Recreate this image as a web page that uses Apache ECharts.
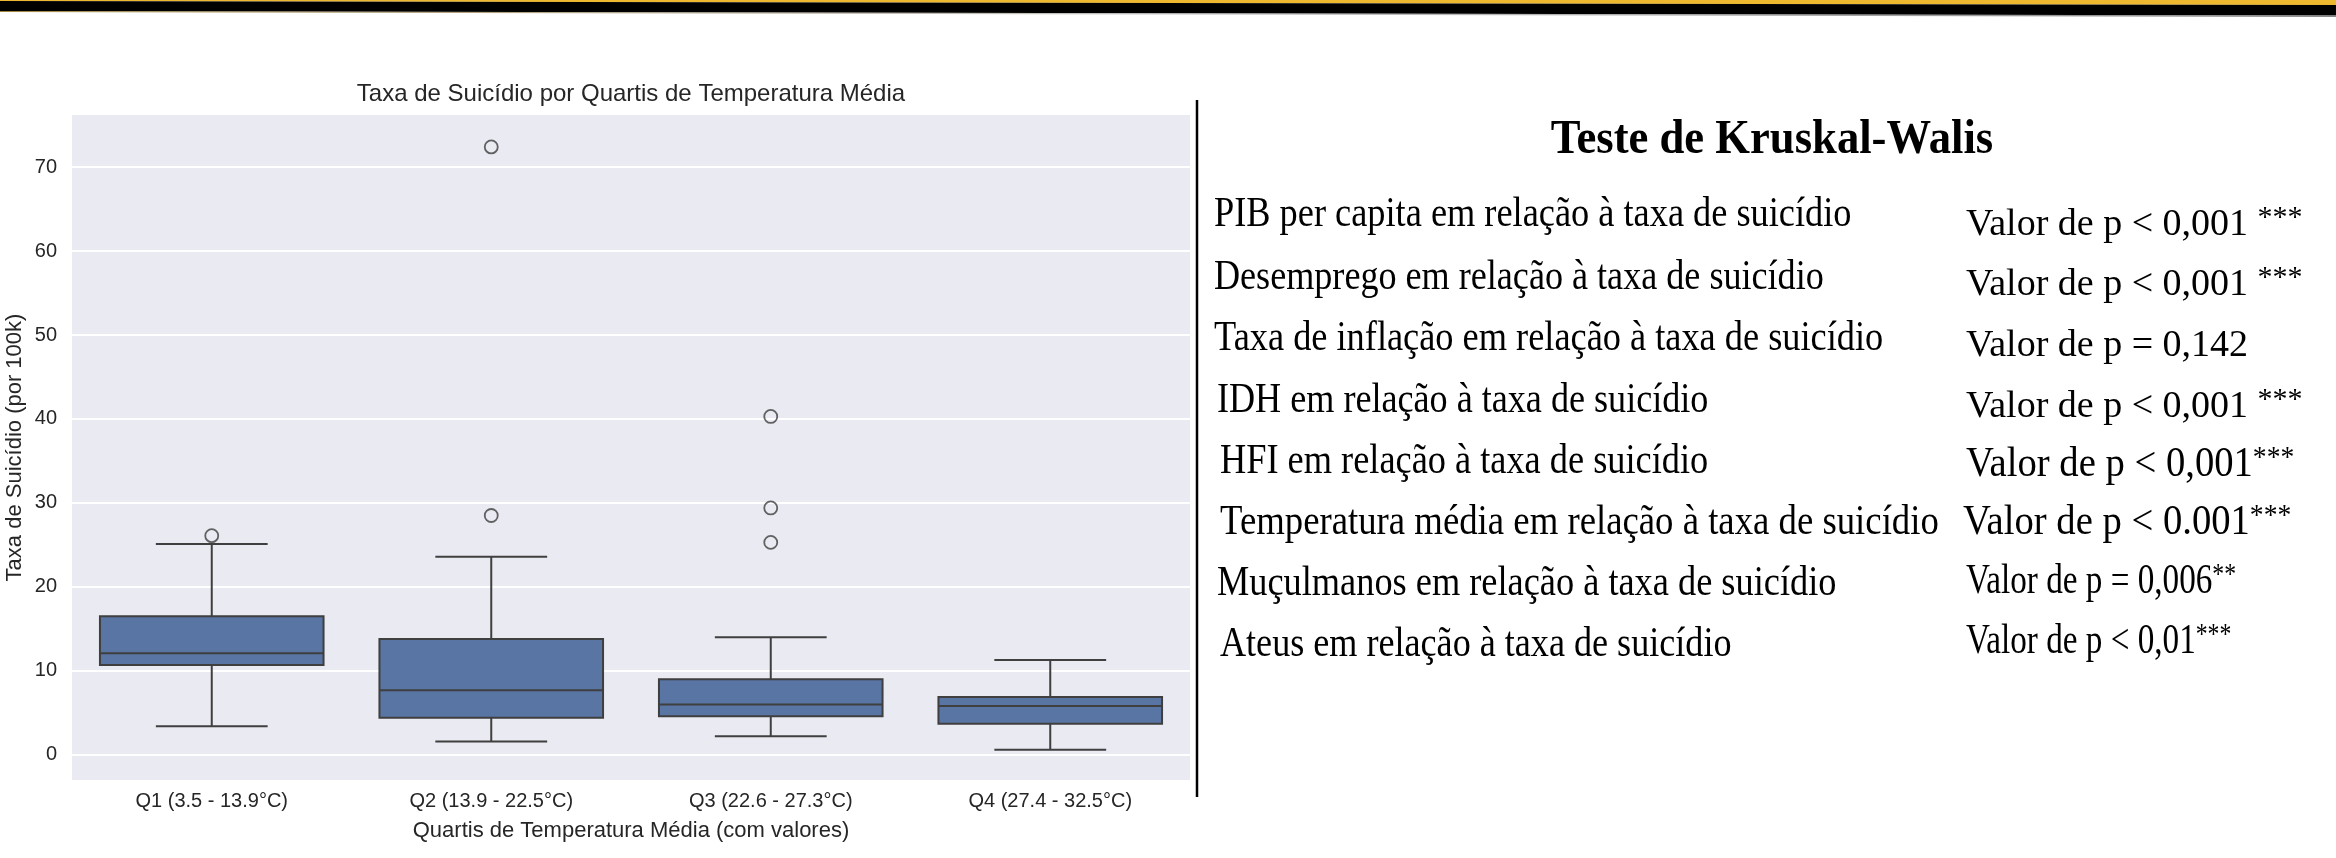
<!DOCTYPE html>
<html>
<head>
<meta charset="utf-8">
<script src="https://cdn.jsdelivr.net/npm/echarts@6/dist/echarts.min.js"></script>
<style>
  html, body { margin: 0; padding: 0; background: #ffffff; }
  #chart { width: 2336px; height: 858px; }
</style>
</head>
<body>
<div id="chart"></div>
<script>
// ---- Data ----
const categories = ['Q1 (3.5 - 13.9°C)', 'Q2 (13.9 - 22.5°C)', 'Q3 (22.6 - 27.3°C)', 'Q4 (27.4 - 32.5°C)'];
const lowerWhisker = [3.4, 1.6, 2.2, 0.6];
const q1Values     = [10.7, 4.4, 4.6, 3.7];
const medianValues = [12.1, 7.7, 6.0, 5.8];
const q3Values     = [16.5, 13.8, 9.0, 6.9];
const upperWhisker = [25.1, 23.6, 14.0, 11.3];
const outlierCategory = [0, 1, 1, 2, 2, 2];
const outlierValues   = [26.1, 28.5, 72.4, 25.3, 29.4, 40.3];

const chartTitle = 'Taxa de Suicídio por Quartis de Temperatura Média';
const xAxisTitle = 'Quartis de Temperatura Média (com valores)';
const yAxisTitle = 'Taxa de Suicídio (por 100k)';

const testTitle = 'Teste de Kruskal-Walis';
const testVariables = [
  'PIB per capita em relação à taxa de suicídio',
  'Desemprego em relação à taxa de suicídio',
  'Taxa de inflação em relação à taxa de suicídio',
  'IDH em relação à taxa de suicídio',
  'HFI em relação à taxa de suicídio',
  'Temperatura média em relação à taxa de suicídio',
  'Muçulmanos em relação à taxa de suicídio',
  'Ateus em relação à taxa de suicídio'
];
const testPValues = [
  'Valor de p < 0,001 ',
  'Valor de p < 0,001 ',
  'Valor de p = 0,142',
  'Valor de p < 0,001 ',
  'Valor de p < 0,001',
  'Valor de p < 0.001',
  'Valor de p = 0,006',
  'Valor de p < 0,01'
];
const testStars = ['***', '***', '', '***', '***', '***', '**', '***'];

// ---- Layout (positions / styles only) ----
const GRID = { left: 72, top: 115, width: 1118, height: 665 };
const PLOT_CX = GRID.left + GRID.width / 2;
const LINE = '#3f3f3f';
const BOX_FILL = '#5975a4';
const SANS = "'Liberation Sans', Arial, sans-serif";
const SERIF = "'Liberation Serif', 'Times New Roman', serif";
const rowY = [215, 278, 339, 401, 462, 523, 584, 645];
const valY = [225, 285, 346, 407, 465, 523, 582, 642];
const rowX = [1214, 1214, 1214, 1217, 1220, 1220, 1217, 1220];
const valX = [1966, 1966, 1966, 1966, 1966, 1963, 1966, 1966];
const rowScale = [0.865, 0.86, 0.865, 0.86, 0.865, 0.875, 0.865, 0.86];
const valStyle = [
  { size: 38, sx: 1.0 }, { size: 38, sx: 1.0 }, { size: 38, sx: 1.0 }, { size: 38, sx: 1.0 },
  { size: 42, sx: 0.92 }, { size: 42, sx: 0.92 }, { size: 42, sx: 0.79 }, { size: 42, sx: 0.79 }
];

const boxData = categories.map((c, i) => [i, lowerWhisker[i], q1Values[i], medianValues[i], q3Values[i], upperWhisker[i]]);
const outlierData = outlierCategory.map((c, i) => [c, outlierValues[i]]);

function renderBox(params, api) {
  const i = api.value(0);
  const band = api.size([1, 0])[0];
  const bw = band * 0.8;
  const cw = bw * 0.5;
  const x = api.coord([i, 0])[0];
  const yLo = api.coord([i, api.value(1)])[1];
  const yQ1 = api.coord([i, api.value(2)])[1];
  const yMed = api.coord([i, api.value(3)])[1];
  const yQ3 = api.coord([i, api.value(4)])[1];
  const yHi = api.coord([i, api.value(5)])[1];
  const ls = { stroke: LINE, lineWidth: 2 };
  return {
    type: 'group',
    children: [
      { type: 'line', shape: { x1: x, y1: yQ3, x2: x, y2: yHi }, style: ls },
      { type: 'line', shape: { x1: x, y1: yQ1, x2: x, y2: yLo }, style: ls },
      { type: 'line', shape: { x1: x - cw / 2, y1: yHi, x2: x + cw / 2, y2: yHi }, style: ls },
      { type: 'line', shape: { x1: x - cw / 2, y1: yLo, x2: x + cw / 2, y2: yLo }, style: ls },
      { type: 'rect', shape: { x: x - bw / 2, y: yQ3, width: bw, height: yQ1 - yQ3 },
        style: { fill: BOX_FILL, stroke: LINE, lineWidth: 2 } },
      { type: 'line', shape: { x1: x - bw / 2, y1: yMed, x2: x + bw / 2, y2: yMed }, style: ls }
    ]
  };
}

const graphics = [
  // top banner
  { type: 'polygon', shape: { points: [[0, 0], [2336, 0], [2336, 5], [0, 1]] }, style: { fill: '#eeb92e' } },
  { type: 'polygon', shape: { points: [[0, 1], [2336, 5], [2336, 15.5], [0, 11]] }, style: { fill: '#000000' } },
  { type: 'polygon', shape: { points: [[0, 11], [2336, 15.5], [2336, 17], [0, 12]] },
    style: { fill: new echarts.graphic.LinearGradient(0, 0, 1, 0, [
      { offset: 0, color: 'rgba(150,120,40,0.9)' }, { offset: 0.5, color: 'rgba(160,160,160,0.6)' }, { offset: 1, color: 'rgba(120,120,120,0.9)' }]) } },
  // chart title
  { type: 'text', x: PLOT_CX, y: 94, style: { text: chartTitle, font: '24px ' + SANS, fill: '#262626', align: 'center', verticalAlign: 'middle' } },
  // separator
  { type: 'line', shape: { x1: 1197, y1: 100, x2: 1197, y2: 797 }, style: { stroke: '#000', lineWidth: 2.5 } },
  // test title
  { type: 'text', x: 1772, y: 141, scaleX: 0.93, style: { text: testTitle, font: 'bold 48px ' + SERIF, fill: '#000', align: 'center', verticalAlign: 'middle' } }
];
testVariables.forEach((t, i) => {
  graphics.push({ type: 'text', x: rowX[i], y: rowY[i], scaleX: rowScale[i],
    style: { text: t, font: '42px ' + SERIF, fill: '#000', align: 'left', verticalAlign: 'middle' } });
  const vs = valStyle[i];
  graphics.push({ type: 'text', x: valX[i], y: valY[i], scaleX: vs.sx,
    style: {
      text: '{a|' + testPValues[i] + '}' + (testStars[i] ? '{s|' + testStars[i] + '}' : ''),
      align: 'left', verticalAlign: 'middle',
      rich: {
        a: { font: vs.size + 'px ' + SERIF, fill: '#000', lineHeight: 44 },
        s: { font: '30px ' + SERIF, fill: '#000', verticalAlign: 'top', lineHeight: 44 }
      }
    } });
});

const chart = echarts.init(document.getElementById('chart'), null, { renderer: 'canvas' });
chart.setOption({
  backgroundColor: '#ffffff',
  animation: false,
  grid: { left: GRID.left, top: GRID.top, width: GRID.width, height: GRID.height,
    show: true, backgroundColor: '#eaeaf2', borderWidth: 0 },
  xAxis: {
    type: 'category', data: categories,
    axisLine: { show: false }, axisTick: { show: false },
    axisLabel: { fontSize: 20, fontFamily: SANS, color: '#262626', margin: 11 },
    splitLine: { show: false },
    name: xAxisTitle, nameLocation: 'middle', nameGap: 40,
    nameTextStyle: { fontSize: 22, fontFamily: SANS, color: '#262626' }
  },
  yAxis: {
    type: 'value', min: -3, max: 76.2, splitNumber: 8,
    axisLine: { show: false }, axisTick: { show: false },
    axisLabel: { fontSize: 20, fontFamily: SANS, color: '#262626', margin: 15,
      showMinLabel: false, showMaxLabel: false,
      formatter: v => (Math.abs(v % 10) < 1e-9 ? String(v) : '') },
    splitLine: { show: true, showMinLine: false, showMaxLine: false, lineStyle: { color: '#ffffff', width: 2 } },
    name: yAxisTitle, nameLocation: 'middle', nameGap: 46, nameRotate: 90,
    nameTextStyle: { fontSize: 22, fontFamily: SANS, color: '#262626' }
  },
  series: [
    { type: 'custom', renderItem: renderBox, data: boxData, encode: { x: 0, y: [1, 2, 3, 4, 5] }, z: 3 },
    { type: 'scatter', data: outlierData, symbol: 'circle', symbolSize: 13, z: 4,
      itemStyle: { color: 'rgba(0,0,0,0)', borderColor: LINE, borderWidth: 1.8 } }
  ],
  graphic: graphics
});
</script>
</body>
</html>
